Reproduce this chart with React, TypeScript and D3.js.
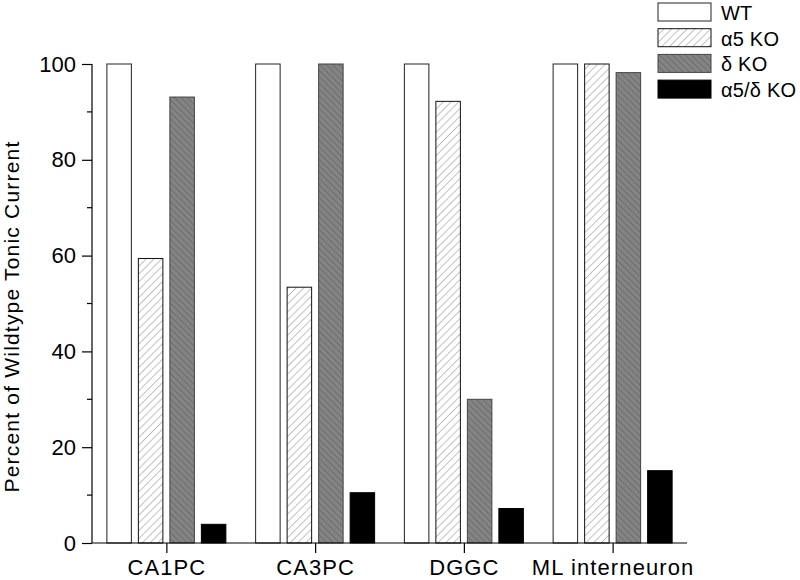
import React, { useEffect, useRef } from "react";
import * as d3 from "d3";

const categories = ["CA1PC", "CA3PC", "DGGC", "ML interneuron"];
const seriesNames = ["WT", "α5 KO", "δ KO", "α5/δ KO"];
const wtValues = [100, 100, 100, 100];
const a5koValues = [59.4, 53.4, 92.2, 100];
const dkoValues = [93.1, 100, 30.0, 98.2];
const a5dkoValues = [3.9, 10.5, 7.2, 15.1];
const yTicks = [0, 20, 40, 60, 80, 100];

const W = 800;
const H = 580;
const FONT = "'Liberation Sans', Arial, sans-serif";

export default function App() {
  const ref = useRef<SVGSVGElement | null>(null);

  useEffect(() => {
    const svg = d3.select(ref.current);
    svg.selectAll("*").remove();

    const defs = svg.append("defs");
    const pa = defs
      .append("pattern")
      .attr("id", "hatchA")
      .attr("patternUnits", "userSpaceOnUse")
      .attr("width", 5.5)
      .attr("height", 5.5)
      .attr("patternTransform", "rotate(45)");
    pa.append("rect").attr("width", 5.5).attr("height", 5.5).attr("fill", "#fff");
    pa.append("line").attr("x1", 0).attr("y1", 0).attr("x2", 0).attr("y2", 5.5)
      .attr("stroke", "#9a9a9a").attr("stroke-width", 1.2);

    const pd = defs
      .append("pattern")
      .attr("id", "hatchD")
      .attr("patternUnits", "userSpaceOnUse")
      .attr("width", 4.5)
      .attr("height", 4.5)
      .attr("patternTransform", "rotate(-45)");
    pd.append("rect").attr("width", 4.5).attr("height", 4.5).attr("fill", "#848484");
    pd.append("line").attr("x1", 0).attr("y1", 0).attr("x2", 0).attr("y2", 4.5)
      .attr("stroke", "#5a5a5a").attr("stroke-width", 1.1);

    const x = d3.scaleLinear().domain([0.5, categories.length + 0.5]).range([92, 687]);
    const y = d3.scaleLinear().domain([0, 100]).range([543, 64]);
    const barStep = 31.5;
    const barW = 24.5;

    const fills = ["#fff", "url(#hatchA)", "url(#hatchD)", "#000"];
    const strokes = ["#222", "#111", "#444", "#000"];
    const allSeries = [wtValues, a5koValues, dkoValues, a5dkoValues];

    const rows = categories.flatMap((c, i) =>
      allSeries.map((vals, j) => ({ c, i, j, v: vals[i] }))
    );

    svg
      .append("g")
      .selectAll("rect")
      .data(rows)
      .join("rect")
      .attr("x", (d) => x(d.i + 1) + (d.j - 1.5) * barStep - barW / 2)
      .attr("y", (d) => y(d.v))
      .attr("width", barW)
      .attr("height", (d) => y(0) - y(d.v))
      .attr("fill", (d) => fills[d.j])
      .attr("stroke", (d) => strokes[d.j])
      .attr("stroke-width", 1);

    // Y axis
    const yAxis = d3
      .axisLeft(y)
      .tickValues(yTicks)
      .tickSize(10)
      .tickPadding(6)
      .tickFormat((d) => String(d));
    const gy = svg.append("g").attr("transform", "translate(92,0)").call(yAxis);
    gy.select(".domain").attr("stroke", "#000").attr("stroke-width", 1.2)
      .attr("d", `M0,${y(0)}V${y(100)}`);
    gy.selectAll(".tick line").attr("stroke", "#000").attr("stroke-width", 1.2);
    gy.selectAll(".tick text")
      .attr("font-family", FONT)
      .attr("font-size", 22)
      .attr("fill", "#000");

    const minor = d3.range(10, 100, 20);
    svg
      .append("g")
      .selectAll("line")
      .data(minor)
      .join("line")
      .attr("x1", 87)
      .attr("x2", 92)
      .attr("y1", (d) => y(d))
      .attr("y2", (d) => y(d))
      .attr("stroke", "#000")
      .attr("stroke-width", 1.2);

    // X axis
    const xAxis = d3
      .axisBottom(x)
      .tickValues(categories.map((_, i) => i + 1))
      .tickSize(10)
      .tickPadding(6)
      .tickFormat((d) => categories[(d as number) - 1]);
    const gx = svg.append("g").attr("transform", `translate(0,${y(0)})`).call(xAxis);
    gx.select(".domain").attr("stroke", "#000").attr("stroke-width", 1.2)
      .attr("d", `M92,0H687`);
    gx.selectAll(".tick line").attr("stroke", "#000").attr("stroke-width", 1.2);
    gx.selectAll(".tick text")
      .attr("font-family", FONT)
      .attr("font-size", 22)
      .attr("letter-spacing", 1.1)
      .attr("fill", "#000");

    // Y title
    svg
      .append("text")
      .attr("transform", `translate(19,${(y(0) + y(100)) / 2 + 13}) rotate(-90)`)
      .attr("text-anchor", "middle")
      .attr("font-family", FONT)
      .attr("font-size", 21)
      .attr("letter-spacing", 1.2)
      .attr("fill", "#000")
      .text("Percent of Wildtype Tonic Current");

    // Legend
    const lg = svg.append("g").attr("transform", "translate(658,3)");
    const lgStep = 25.7;
    seriesNames.forEach((name, j) => {
      lg.append("rect")
        .attr("x", 0)
        .attr("y", j * lgStep)
        .attr("width", 53)
        .attr("height", 18)
        .attr("fill", fills[j])
        .attr("stroke", strokes[j])
        .attr("stroke-width", 1);
      lg.append("text")
        .attr("x", 63)
        .attr("y", j * lgStep + 17)
        .attr("font-family", FONT)
        .attr("font-size", 20)
        .attr("letter-spacing", 0.2)
        .attr("fill", "#000")
        .text(name);
    });
  }, []);

  return (
    <svg
      ref={ref}
      width={W}
      height={H}
      style={{ position: "absolute", left: 0, top: 0, background: "#fff" }}
    />
  );
}
